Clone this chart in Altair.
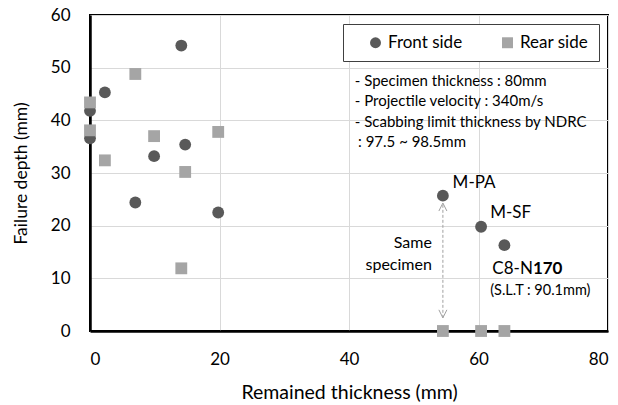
import altair as alt
import pandas as pd

# ---- data ----
series_names = ["Front side", "Rear side"]
front_x = [0, 0, 2.3, 14.1, 9.9, 14.7, 7.0, 19.8, 54.5, 60.4, 64.0]
front_y = [41.8, 36.6, 45.3, 54.2, 33.2, 35.4, 24.4, 22.5, 25.7, 19.8, 16.3]
rear_x = [0, 0, 2.3, 7.0, 9.9, 14.7, 19.8, 14.1, 54.5, 60.4, 64.0]
rear_y = [43.4, 38.1, 32.4, 48.8, 37.0, 30.2, 37.8, 11.9, 0, 0, 0]
x_ticks = [0, 20, 40, 60, 80]
y_ticks = [0, 10, 20, 30, 40, 50, 60]

info_lines = [
    "- Specimen thickness : 80mm",
    "- Projectile velocity : 340m/s",
    "- Scabbing limit thickness by NDRC",
    ": 97.5 ~ 98.5mm",
]
info_x = [40.9, 40.9, 40.9, 41.4]
info_y = [47.5, 43.7, 39.7, 35.9]

label_text = ["M-PA", "M-SF"]
label_x = [56.0, 61.8]
label_y = [28.1, 22.4]

same_text = ["Same", "specimen"]
same_x = [52.8, 52.8]
same_y = [16.7, 12.5]

arrow_x = 54.5
arrow_y_low = 2.5
arrow_y_high = 24.3

FONT = "Lato"
X_TITLE = "Remained thickness (mm)"
Y_TITLE = "Failure depth (mm)"

df = pd.DataFrame({
    "x": front_x + rear_x,
    "y": front_y + rear_y,
    "series": [series_names[0]] * len(front_x) + [series_names[1]] * len(rear_x),
})

xs = alt.Scale(domain=[0, 80], nice=False, zero=False)
ys = alt.Scale(domain=[0, 60], nice=False, zero=False)
x_axis = alt.Axis(values=x_ticks, grid=True, titleFontSize=19.5, labelPadding=20, titlePadding=16)
y_axis = alt.Axis(values=y_ticks, grid=True, titleFontSize=17.5, labelPadding=20, titlePadding=20)


def X(field):
    return alt.X(field, scale=xs, title=X_TITLE, axis=x_axis)


def Y(field):
    return alt.Y(field, scale=ys, title=Y_TITLE, axis=y_axis)


legend = alt.Legend(
    title=None, orient="none", legendX=253, legendY=9, direction="horizontal",
    strokeColor="#404040", fillColor="white", padding=10, symbolOffset=14,
    labelFontSize=17, labelFont=FONT, labelColor="#000000", symbolSize=120,
    symbolStrokeWidth=0, columnPadding=22, labelOffset=4,
)

points = alt.Chart(df).mark_point(filled=True, opacity=1, size=140, clip=False).encode(
    x=X("x:Q"),
    y=Y("y:Q"),
    color=alt.Color("series:N", scale=alt.Scale(domain=series_names, range=["#595959", "#a5a5a5"]),
                    legend=legend),
    shape=alt.Shape("series:N", scale=alt.Scale(domain=series_names, range=["circle", "square"]),
                    legend=legend),
)

info_df = pd.DataFrame({"x": info_x, "y": info_y, "t": info_lines})
info = alt.Chart(info_df).mark_text(align="left", baseline="middle", fontSize=15, font=FONT,
                                     color="#000000").encode(x=X("x:Q"), y=Y("y:Q"), text="t:N")

lab_df = pd.DataFrame({"x": label_x, "y": label_y, "t": label_text})
labs = alt.Chart(lab_df).mark_text(align="left", baseline="middle", fontSize=17, font=FONT,
                                    color="#000000").encode(x=X("x:Q"), y=Y("y:Q"), text="t:N")

same_df = pd.DataFrame({"x": same_x, "y": same_y, "t": same_text})
same = alt.Chart(same_df).mark_text(align="right", baseline="middle", fontSize=16, font=FONT,
                                     color="#000000").encode(x=X("x:Q"), y=Y("y:Q"), text="t:N")

c8_df = pd.DataFrame({"x": [68.4], "y": [11.8], "t": ["C8-N"]})
c8 = alt.Chart(c8_df).mark_text(align="right", baseline="middle", fontSize=17, font=FONT,
                                 color="#000000").encode(x=X("x:Q"), y=Y("y:Q"), text="t:N")
n170_df = pd.DataFrame({"x": [68.4], "y": [11.8], "t": ["170"]})
n170 = alt.Chart(n170_df).mark_text(align="left", baseline="middle", fontSize=17, font=FONT,
                                     fontWeight="bold", color="#000000").encode(
    x=X("x:Q"), y=Y("y:Q"), text="t:N")
slt_df = pd.DataFrame({"x": [61.8], "y": [7.6], "t": ["(S.L.T : 90.1mm)"]})
slt = alt.Chart(slt_df).mark_text(align="left", baseline="middle", fontSize=14.5, font=FONT,
                                   color="#000000").encode(x=X("x:Q"), y=Y("y:Q"), text="t:N")

arr_df = pd.DataFrame({"x": [arrow_x], "y": [arrow_y_low], "y2": [arrow_y_high]})
arrow_line = alt.Chart(arr_df).mark_rule(color="#a0a0a0", strokeDash=[3, 2], strokeWidth=1).encode(
    x=X("x:Q"), y=Y("y:Q"), y2="y2:Q")
head_top = alt.Chart(arr_df).mark_point(shape="M-1,2L0,0L1,2", filled=False, size=64,
                                         color="#a0a0a0", strokeWidth=1, opacity=1).encode(
    x=X("x:Q"), y=Y("y2:Q"))
head_bot = alt.Chart(arr_df).mark_point(shape="M-1,-2L0,0L1,-2", filled=False, size=64,
                                         color="#a0a0a0", strokeWidth=1, opacity=1).encode(
    x=X("x:Q"), y=Y("y:Q"))

chart = alt.layer(arrow_line, head_top, head_bot, info, labs, same, c8, n170, slt, points).properties(
    width=518, height=316,
    autosize=alt.AutoSizeParams(type="none"),
    padding={"left": 90, "top": 15, "right": 10, "bottom": 74},
    background="white",
).configure_view(stroke="#000000", strokeWidth=2).configure_axis(
    domainColor="#000000", domainWidth=2.5, gridColor="#d9d9d9", gridWidth=1,
    tickSize=0, labelFont=FONT, labelFontSize=17, labelColor="#000000",
    titleFont=FONT, titleFontWeight="normal", titleColor="#000000",
)

chart.save("out.html", embed_options={"renderer": "svg", "actions": False})
